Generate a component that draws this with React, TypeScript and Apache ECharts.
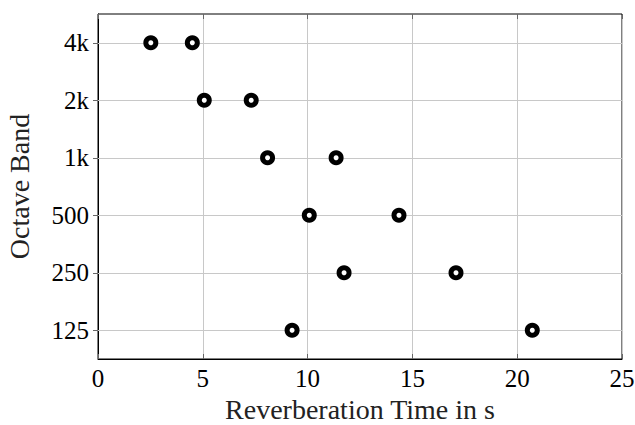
import React, { useEffect, useRef } from "react";
import * as echarts from "echarts";

const bands = ["125", "250", "500", "1k", "2k", "4k"];
const seriesA = [9.26, 11.74, 10.08, 8.09, 5.07, 2.52];
const seriesB = [20.72, 17.08, 14.36, 11.36, 7.31, 4.5];
const xTicks = { min: 0, max: 25, interval: 5 };

const FONT = "'Liberation Serif', 'DejaVu Serif', serif";

export default function App() {
  const ref = useRef<HTMLDivElement>(null);
  useEffect(() => {
    if (!ref.current) return;
    const chart = echarts.init(ref.current, undefined, { renderer: "svg" });
    const points: [number, string][] = [];
    bands.forEach((b, i) => {
      points.push([seriesA[i], b]);
      points.push([seriesB[i], b]);
    });
    const tickStyle = { show: true, inside: true, length: 5, lineStyle: { color: "#666", width: 1 } };
    chart.setOption({
      animation: false,
      grid: {
        left: 98,
        top: 14,
        right: 13,
        bottom: 66,
        containLabel: false,
        outerBoundsMode: "none",
        show: true,
        borderColor: "#000",
        borderWidth: 1,
        backgroundColor: "transparent",
      },
      xAxis: [
        {
          type: "value",
          min: xTicks.min,
          max: xTicks.max,
          interval: xTicks.interval,
          position: "bottom",
          name: "Reverberation Time in s",
          nameLocation: "middle",
          nameGap: 36,
          nameTextStyle: { fontFamily: FONT, fontSize: 28, color: "#222" },
          axisLine: { show: true, lineStyle: { color: "#000", width: 1 } },
          axisTick: tickStyle,
          axisLabel: { fontFamily: FONT, fontSize: 25, color: "#000", margin: 7 },
          splitLine: { show: true, lineStyle: { color: "#c8c8c8", width: 1 } },
        },
        {
          type: "value",
          min: xTicks.min,
          max: xTicks.max,
          interval: xTicks.interval,
          position: "top",
          axisLine: { show: false },
          axisTick: tickStyle,
          axisLabel: { show: false },
          splitLine: { show: false },
        },
      ],
      yAxis: [
        {
          type: "category",
          data: bands,
          boundaryGap: true,
          position: "left",
          name: "Octave Band",
          nameLocation: "middle",
          nameGap: 65,
          nameTextStyle: { fontFamily: FONT, fontSize: 28, color: "#222" },
          axisLine: { show: true, lineStyle: { color: "#000", width: 1 } },
          axisTick: { ...tickStyle, alignWithLabel: true },
          axisLabel: { fontFamily: FONT, fontSize: 25, color: "#000", margin: 9 },
          splitLine: { show: false },
        },
        {
          type: "category",
          data: bands,
          boundaryGap: true,
          position: "right",
          axisLine: { show: false },
          axisTick: { ...tickStyle, alignWithLabel: true },
          axisLabel: { show: false },
          splitLine: { show: false },
        },
      ],
      series: [
        {
          type: "scatter",
          data: [],
          z: 1,
          silent: true,
          markLine: {
            silent: true,
            symbol: ["none", "none"],
            label: { show: false },
            lineStyle: { color: "#c8c8c8", width: 1, type: "solid" },
            data: bands.map((b) => ({ yAxis: b })),
          },
        },
        {
          type: "scatter",
          z: 5,
          data: points,
          symbol: "circle",
          symbolSize: 10,
          itemStyle: { color: "#fff", borderColor: "#000", borderWidth: 5, opacity: 1 },
        },
      ],
    });
    return () => chart.dispose();
  }, []);
  return (
    <div
      ref={ref}
      style={{ position: "fixed", left: 0, top: 0, width: 635, height: 425, background: "#fff" }}
    />
  );
}
